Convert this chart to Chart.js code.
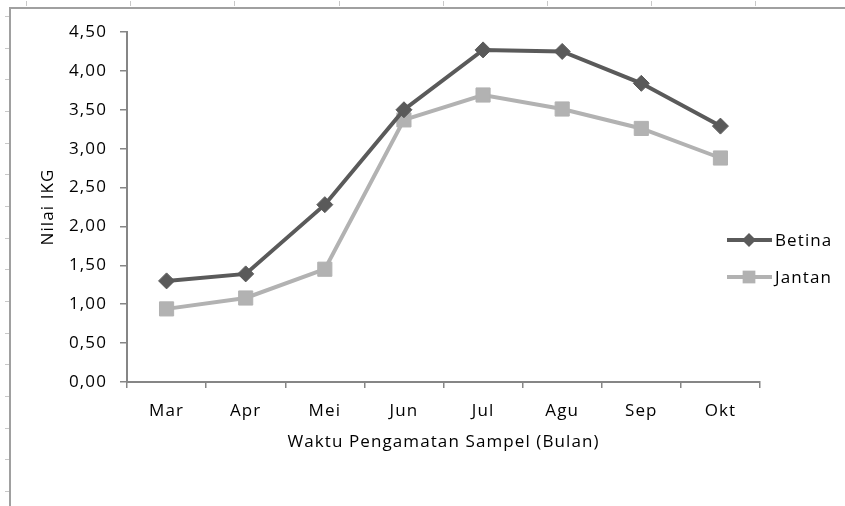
<!DOCTYPE html>
<html lang="id">
<head>
    <meta charset="UTF-8">
    <title>Nilai IKG</title>
    <style>
        html, body {
            margin: 0;
            padding: 0;
            background: #ffffff;
        }

        #wrap {
            width: 845px;
            height: 506px;
        }
    </style>
</head>
<body>
    <div id="wrap">
        <canvas id="ikgChart" width="845" height="506"></canvas>
    </div>

    <script src="https://cdn.jsdelivr.net/npm/chart.js@4/dist/chart.umd.min.js"></script>
    <script>
        // data
        const bulan = ['Mar', 'Apr', 'Mei', 'Jun', 'Jul', 'Agu', 'Sep', 'Okt'];
        const betina = [1.30, 1.39, 2.28, 3.50, 4.27, 4.25, 3.84, 3.29];
        const jantan = [0.94, 1.08, 1.45, 3.37, 3.69, 3.51, 3.26, 2.88];
        const sumbuY = { min: 0, max: 4.5, step: 0.5 };
        const judulX = 'Waktu Pengamatan Sampel (Bulan)';
        const judulY = 'Nilai IKG';

        const FONT = "'Open Sans', sans-serif";
        const SPACING = '1.1px';

        // jarak huruf agak lebar seperti di gambar asli
        const spasiHuruf = {
            id: 'spasiHuruf',
            beforeUpdate(chart) { chart.ctx.letterSpacing = SPACING; },
            beforeDraw(chart) { chart.ctx.letterSpacing = SPACING; }
        };

        // bingkai abu-abu di kiri dan atas
        const bingkai = {
            id: 'bingkai',
            beforeDraw(chart) {
                const ctx = chart.ctx;
                ctx.save();
                ctx.strokeStyle = '#a0a0a0';
                ctx.lineWidth = 2;
                ctx.beginPath();
                ctx.moveTo(10, 506);
                ctx.lineTo(10, 8);
                ctx.lineTo(845, 8);
                ctx.stroke();
                ctx.strokeStyle = '#c8c8c8';
                ctx.lineWidth = 1;
                ctx.beginPath();
                for (let x = 26; x < 845; x += 104.2) {
                    ctx.moveTo(Math.round(x) + 0.5, 1);
                    ctx.lineTo(Math.round(x) + 0.5, 6);
                }
                for (let y = 16; y < 506; y += 31.67) {
                    ctx.moveTo(5, Math.round(y) + 0.5);
                    ctx.lineTo(9, Math.round(y) + 0.5);
                }
                ctx.stroke();
                ctx.restore();
            }
        };

        function gambarPenanda(ctx, gaya, x, y, r) {
            ctx.beginPath();
            if (gaya === 'rectRot') {
                ctx.moveTo(x, y - r);
                ctx.lineTo(x + r, y);
                ctx.lineTo(x, y + r);
                ctx.lineTo(x - r, y);
            } else {
                const s = r * Math.SQRT1_2;
                ctx.rect(x - s, y - s, s * 2, s * 2);
            }
            ctx.closePath();
            ctx.fill();
        }

        // legenda di sebelah kanan, sedikit masuk ke area plot
        const legendaKanan = {
            id: 'legendaKanan',
            afterDatasetsDraw(chart) {
                const ctx = chart.ctx;
                const area = chart.chartArea;
                ctx.save();
                ctx.font = '17px ' + FONT;
                ctx.textBaseline = 'middle';
                ctx.textAlign = 'left';
                chart.data.datasets.forEach((ds, i) => {
                    const y = area.top + 208 + i * 37;
                    const x0 = area.right - 33;
                    ctx.strokeStyle = ds.borderColor;
                    ctx.lineWidth = ds.borderWidth;
                    ctx.beginPath();
                    ctx.moveTo(x0, y);
                    ctx.lineTo(x0 + 45, y);
                    ctx.stroke();
                    ctx.fillStyle = ds.pointBackgroundColor;
                    gambarPenanda(ctx, ds.pointStyle, x0 + 22, y, ds.pointRadius - 1);
                    ctx.fillStyle = '#000000';
                    ctx.fillText(ds.label, x0 + 48, y + 1);
                });
                ctx.restore();
            }
        };

        Chart.defaults.font.family = FONT;
        Chart.defaults.font.size = 17;
        Chart.defaults.color = '#000000';

        const ctx = document.getElementById('ikgChart').getContext('2d');
        const chart = new Chart(ctx, {
            type: 'line',
            data: {
                labels: bulan,
                datasets: [{
                    label: 'Betina',
                    data: betina,
                    borderColor: '#5a5a5a',
                    backgroundColor: '#5a5a5a',
                    pointBackgroundColor: '#5a5a5a',
                    pointBorderColor: '#5a5a5a',
                    borderWidth: 4,
                    pointStyle: 'rectRot',
                    pointRadius: 8,
                    pointBorderWidth: 1,
                    tension: 0
                }, {
                    label: 'Jantan',
                    data: jantan,
                    borderColor: '#b2b2b2',
                    backgroundColor: '#b2b2b2',
                    pointBackgroundColor: '#b2b2b2',
                    pointBorderColor: '#b2b2b2',
                    borderWidth: 4,
                    pointStyle: 'rect',
                    pointRadius: 10,
                    pointBorderWidth: 1,
                    tension: 0
                }]
            },
            options: {
                responsive: false,
                animation: false,
                layout: {
                    padding: { left: 30, top: 32, right: 85, bottom: 40 }
                },
                plugins: {
                    legend: { display: false },
                    tooltip: { enabled: false }
                },
                scales: {
                    x: {
                        offset: true,
                        grid: {
                            offset: true,
                            drawOnChartArea: false,
                            drawTicks: true,
                            tickLength: 6,
                            color: '#868686',
                            lineWidth: 1.5
                        },
                        border: { color: '#868686', width: 2 },
                        ticks: { padding: 13, color: '#000000' },
                        title: {
                            display: true,
                            text: judulX,
                            color: '#000000',
                            padding: { top: 0, bottom: 14 }
                        },
                        afterFit(scale) { scale.height = 506 - 40 - 382; }
                    },
                    y: {
                        min: sumbuY.min,
                        max: sumbuY.max,
                        ticks: {
                            stepSize: sumbuY.step,
                            padding: 13,
                            color: '#000000',
                            callback: v => v.toFixed(2).replace('.', ',')
                        },
                        grid: {
                            drawOnChartArea: false,
                            drawTicks: true,
                            tickLength: 7,
                            color: '#868686',
                            lineWidth: 1.5
                        },
                        border: { color: '#868686', width: 2 },
                        title: {
                            display: true,
                            text: judulY,
                            color: '#000000',
                            padding: { top: 8, bottom: 14 }
                        },
                        afterFit(scale) { scale.width = 127 - 30; }
                    }
                }
            },
            plugins: [spasiHuruf, bingkai, legendaKanan]
        });
    </script>
</body>
</html>
